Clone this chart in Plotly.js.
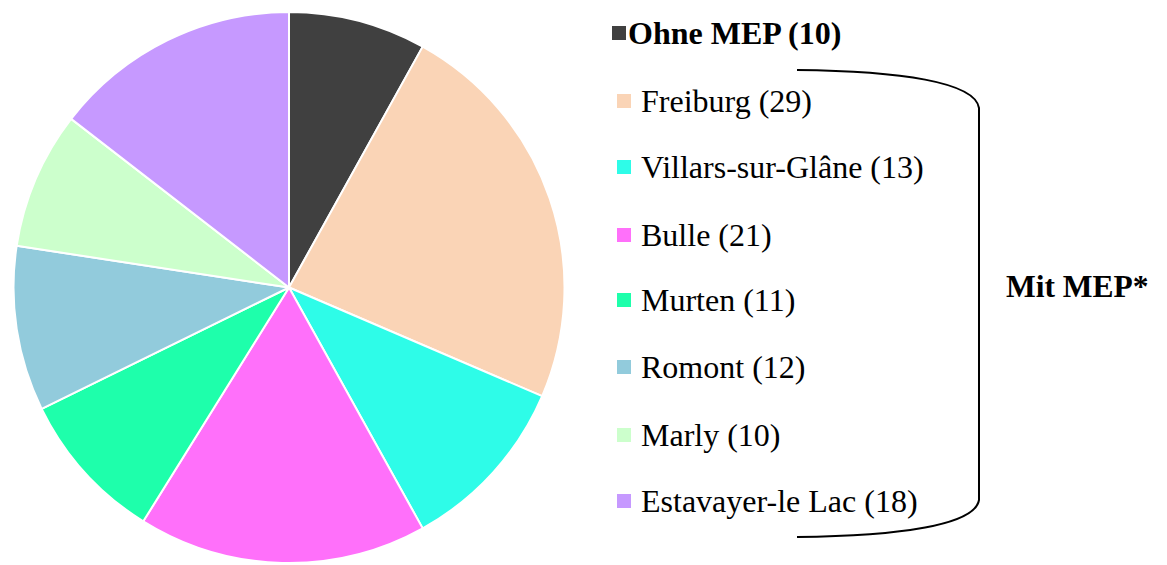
<!DOCTYPE html>
<html><head><meta charset="utf-8">
<script src="https://cdn.plot.ly/plotly-3.0.1.min.js"></script>
<style>html,body{margin:0;padding:0;background:#fff}#chart{width:1167px;height:565px}</style>
</head><body><div id="chart"></div>
<script>
const categories = ["Ohne MEP", "Freiburg", "Villars-sur-Glâne", "Bulle", "Murten", "Romont", "Marly", "Estavayer-le Lac"];
const values = [10, 29, 13, 21, 11, 12, 10, 18];
const colors = ["#404040", "#FAD4B6", "#2EFCE8", "#FF70FA", "#1EFFAB", "#92CBDC", "#CCFFCC", "#C699FF"];
const groupLabel = "Mit MEP*";

const W = 1167, H = 565;
const px = x => x / W;
const py = y => 1 - y / H;

const trace = {
  type: "pie",
  labels: categories,
  values: values,
  sort: false,
  direction: "clockwise",
  rotation: 0,
  textinfo: "none",
  hoverinfo: "label+value",
  marker: {colors: colors, line: {color: "#ffffff", width: 2}},
  domain: {x: [px(13), px(565)], y: [py(563), py(12)]},
  showlegend: false
};

const font = "'Times New Roman', 'Liberation Serif', 'DejaVu Serif', serif";
const rowY = [33, 101, 167, 235, 300, 367, 435, 501];
const annotations = [];
const shapes = [];
categories.forEach((c, i) => {
  const bold = i === 0;
  const sqX = bold ? 612 : 617;
  const txtX = bold ? 626 : 639;
  shapes.push({type: "rect", xref: "paper", yref: "paper",
    x0: px(sqX), x1: px(sqX + 14), y0: py(rowY[i] - 7), y1: py(rowY[i] + 7),
    fillcolor: colors[i], line: {width: 0}});
  const t = c + " (" + values[i] + ")";
  annotations.push({xref: "paper", yref: "paper", x: px(txtX), y: py(rowY[i]),
    xanchor: "left", yanchor: "middle", showarrow: false,
    text: bold ? "<b>" + t + "</b>" : t,
    font: {family: font, size: 32, color: "#000"}});
});
annotations.push({xref: "paper", yref: "paper", x: px(1004), y: py(286),
  xanchor: "left", yanchor: "middle", showarrow: false,
  text: "<b>" + groupLabel + "</b>", font: {family: font, size: 31.5, color: "#000"}});

const P = (x, y) => px(x).toFixed(5) + "," + py(y).toFixed(5);
shapes.push({type: "path", xref: "paper", yref: "paper",
  path: "M" + P(797, 70) + " C" + P(900, 71) + " " + P(975, 82) + " " + P(979, 108) +
        " L" + P(979, 500) + " C" + P(975, 525) + " " + P(900, 536) + " " + P(797, 537),
  line: {color: "#000", width: 2}});

const layout = {
  width: W, height: H,
  margin: {l: 0, r: 0, t: 0, b: 0},
  paper_bgcolor: "#ffffff",
  showlegend: false,
  font: {family: font},
  annotations: annotations,
  shapes: shapes
};
Plotly.newPlot("chart", [trace], layout, {displayModeBar: false, staticPlot: true});
</script></body></html>
